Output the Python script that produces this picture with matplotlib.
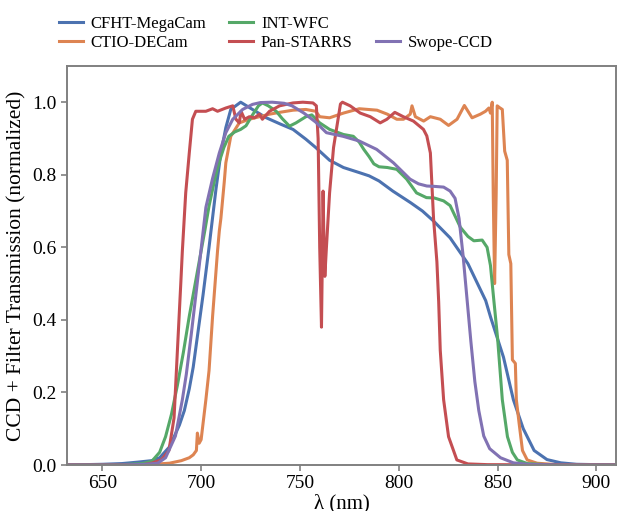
import matplotlib
matplotlib.use("Agg")
import matplotlib.pyplot as plt
from matplotlib.lines import Line2D

# filter curves (wavelength in nm, normalized transmission)
cfht_wl = [632, 650, 660, 668, 675, 679, 684, 689, 691.5, 694, 696, 698, 701, 704, 707.5, 710, 712.5, 715, 717.5,
           720, 726, 733, 740, 746.5, 753, 758, 765, 772, 780, 785, 790, 797, 806, 812, 817.5, 826, 835, 844, 846.5,
           853, 858, 863, 868.5, 875, 882, 890, 900, 910]
cfht_tr = [0, 0.002, 0.004, 0.008, 0.012, 0.02, 0.05, 0.11, 0.15, 0.21, 0.27, 0.35, 0.47, 0.6, 0.76, 0.86, 0.93,
           0.98, 0.99, 1.0, 0.98, 0.957, 0.94, 0.925, 0.898, 0.875, 0.84, 0.82, 0.806, 0.797, 0.783, 0.755, 0.723,
           0.70, 0.673, 0.626, 0.555, 0.453, 0.407, 0.297, 0.18, 0.10, 0.04, 0.015, 0.006, 0.002, 0.001, 0]

decam_wl = [632, 670, 684, 690, 694, 696, 697.6, 698.1, 699, 700, 702.4, 704, 705.8, 708.3, 709.2, 710, 711.7,
            712.5, 715, 719.3, 724.4, 729.5, 734.6, 739.7, 746.5, 753, 758, 760, 765, 772, 780, 789, 794.2, 799,
            802.4, 805.8, 806.7, 808.4, 812.6, 816, 821, 825.2, 829.5, 833.2, 837.1, 841.3, 843.9, 845.6, 846.4,
            847.3, 847.8, 848.5, 849.3, 849.8, 851, 852.4, 853.6, 854.9, 855.7, 856.7, 857.5, 859, 859.5, 860.9,
            862.6, 865, 870, 880, 910]
decam_tr = [0, 0, 0.005, 0.012, 0.02, 0.028, 0.04, 0.088, 0.06, 0.07, 0.18, 0.26, 0.41, 0.59, 0.645, 0.68, 0.78,
            0.833, 0.906, 0.943, 0.953, 0.96, 0.967, 0.972, 0.978, 0.98, 0.975, 0.96, 0.957, 0.97, 0.982, 0.978,
            0.967, 0.953, 0.953, 0.967, 0.99, 0.96, 0.948, 0.96, 0.953, 0.936, 0.953, 0.991, 0.957, 0.967, 0.975,
            0.984, 0.97, 1.0, 0.75, 0.5, 0.75, 0.99, 0.985, 0.98, 0.865, 0.84, 0.58, 0.555, 0.29, 0.28, 0.18,
            0.115, 0.04, 0.014, 0.005, 0.001, 0]

wfc_wl = [632, 660, 670, 675, 679, 682, 685, 688, 691, 694, 697, 699, 702, 704, 707, 709, 711.5, 714, 717, 720,
          722.7, 726, 729, 731, 734, 738, 741, 744.7, 748, 753, 756, 760, 765, 772, 777, 780, 782.3, 785, 787.4,
          790, 794.2, 799, 804, 809, 814, 818, 822.7, 826, 831.2, 835, 838, 842.2, 844.7, 846.4, 848, 850, 852.4,
          855, 857.5, 860, 865, 875, 910]
wfc_tr = [0, 0.001, 0.004, 0.01, 0.035, 0.078, 0.14, 0.22, 0.31, 0.41, 0.5, 0.56, 0.65, 0.714, 0.79, 0.833, 0.875,
          0.906, 0.918, 0.925, 0.935, 0.965, 0.99, 0.998, 0.99, 0.975, 0.955, 0.934, 0.943, 0.96, 0.965, 0.943,
          0.925, 0.911, 0.906, 0.89, 0.87, 0.85, 0.83, 0.822, 0.82, 0.815, 0.788, 0.75, 0.737, 0.736, 0.728,
          0.715, 0.655, 0.63, 0.618, 0.62, 0.60, 0.55, 0.46, 0.35, 0.18, 0.078, 0.035, 0.014, 0.004, 0.001, 0]

ps_wl = [632, 670, 675, 680, 683.7, 686.3, 688, 689.7, 690.5, 692.2, 694, 695.6, 697.3, 702.4, 705.8, 708.3, 712.5,
         716, 717.6, 719.3, 720.2, 722, 724.4, 727, 729.5, 731, 734.6, 739.7, 746.5, 751.5, 756.6, 758.3, 759.2,
         760, 760.9, 761.4, 761.7, 762.2, 762.6, 763.4, 765, 767, 770.5, 771.5, 775.4, 780.5, 785.6, 790.6, 794,
         798, 802.3, 807.4, 812.5, 814.2, 816, 816.8, 817.6, 819.3, 820.2, 821, 822.7, 825.2, 829.4, 835, 845, 910]
ps_tr = [0, 0, 0.005, 0.015, 0.04, 0.13, 0.316, 0.5, 0.59, 0.75, 0.86, 0.953, 0.975, 0.975, 0.982, 0.975, 0.984,
         0.99, 0.953, 0.943, 0.975, 0.953, 0.96, 0.957, 0.967, 0.953, 0.975, 0.99, 0.998, 1.0, 0.998, 0.99, 0.9,
         0.6, 0.38, 0.6, 0.755, 0.6, 0.52, 0.6, 0.75, 0.875, 0.995, 1.0, 0.99, 0.97, 0.96, 0.943, 0.953, 0.972,
         0.96, 0.948, 0.925, 0.907, 0.86, 0.77, 0.68, 0.56, 0.45, 0.316, 0.18, 0.078, 0.014, 0.003, 0.001, 0]

swope_wl = [632, 660, 672, 678, 682, 687, 690.5, 692.5, 695, 698, 702.4, 705.8, 709.2, 712.5, 716, 721, 726, 730,
            736, 742, 746, 752, 758, 763.4, 771.8, 780, 788.8, 797.3, 805.7, 810, 814.2, 818, 822.7, 826, 828.5,
            830.5, 832.5, 834.5, 836.5, 838.5, 840.5, 843, 846, 851.5, 858, 865, 880, 910]
swope_tr = [0, 0, 0.002, 0.005, 0.02, 0.08, 0.18, 0.25, 0.36, 0.5, 0.71, 0.79, 0.86, 0.916, 0.953, 0.98, 0.994,
            0.999, 1.0, 0.997, 0.99, 0.97, 0.945, 0.916, 0.906, 0.893, 0.87, 0.833, 0.788, 0.775, 0.769, 0.768,
            0.766, 0.755, 0.735, 0.68, 0.58, 0.46, 0.34, 0.23, 0.15, 0.08, 0.045, 0.02, 0.006, 0.002, 0, 0]

plt.rcParams["font.family"] = ["Liberation Serif", "DejaVu Serif"]

fig = plt.figure(figsize=(6.18, 5.11), dpi=100)
ax = fig.add_axes([0.108, 0.09, 0.889, 0.781])

l1, = ax.plot(cfht_wl, cfht_tr, color="#4C72B0", lw=2.2, label="CFHT-MegaCam")
l2, = ax.plot(decam_wl, decam_tr, color="#DD8452", lw=2.2, label="CTIO-DECam")
l3, = ax.plot(wfc_wl, wfc_tr, color="#55A868", lw=2.2, label="INT-WFC")
l4, = ax.plot(ps_wl, ps_tr, color="#C44E52", lw=2.2, label="Pan-STARRS")
l5, = ax.plot(swope_wl, swope_tr, color="#8172B3", lw=2.2, label="Swope-CCD")

ax.set_xlim(632, 910)
ax.set_ylim(0, 1.1)
ax.set_xticks([650, 700, 750, 800, 850, 900])
ax.set_yticks([0.0, 0.2, 0.4, 0.6, 0.8, 1.0])
ax.tick_params(labelsize=14, length=4, width=1.2, color="#808080")
for s in ax.spines.values():
    s.set_color("#808080")
    s.set_linewidth(1.4)

ax.set_xlabel("λ (nm)", fontsize=15, labelpad=1)
ax.set_ylabel("CCD + Filter Transmission (normalized)", fontsize=15.5)

# empty slot so Swope-CCD sits on the second row of the third column
blank = Line2D([], [], alpha=0)
ax.legend([l1, l2, l3, l4, blank, l5],
          ["CFHT-MegaCam", "CTIO-DECam", "INT-WFC", "Pan-STARRS", "", "Swope-CCD"],
          ncol=3, frameon=False, fontsize=12, handlelength=1.45, handletextpad=0.45, columnspacing=1.4,
          loc="lower left", bbox_to_anchor=(-0.027, 1.02), labelspacing=0.22, borderaxespad=0)

fig.savefig("out.png", dpi=100)
